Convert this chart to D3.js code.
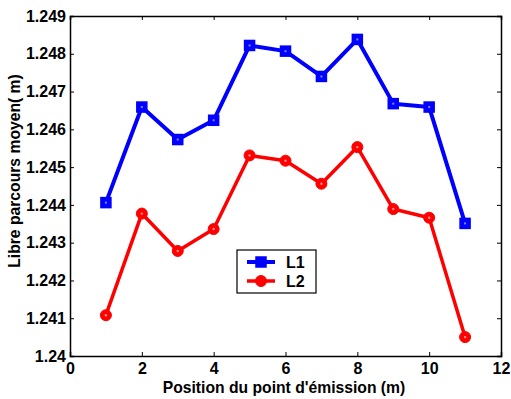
<!DOCTYPE html>
<html>
<head>
<meta charset="utf-8">
<script src="https://cdn.jsdelivr.net/npm/d3@7"></script>
<style>
  body { margin: 0; background: #fff; }
  text { font-family: "Liberation Sans", Arial, sans-serif; font-weight: bold; }
</style>
</head>
<body>
<div id="chart"></div>
<script>
const positions = [1, 2, 3, 4, 5, 6, 7, 8, 9, 10, 11]
const l1 = [1.24406, 1.24659, 1.24573, 1.24624, 1.24822, 1.24807, 1.2474, 1.24838, 1.24668, 1.24659, 1.24351]
const l2 = [1.24108, 1.24377, 1.24278, 1.24336, 1.24531, 1.24517, 1.24456, 1.24553, 1.24389, 1.24366, 1.2405]
const xTicks = [0, 2, 4, 6, 8, 10, 12]
const yTicks = [1.24, 1.241, 1.242, 1.243, 1.244, 1.245, 1.246, 1.247, 1.248, 1.249]
const yTickLabels = ["1.24", "1.241", "1.242", "1.243", "1.244", "1.245", "1.246", "1.247", "1.248", "1.249"]

const width = 511, height = 399
const margin = {top: 16, right: 10, bottom: 43, left: 70}
const w = width - margin.left - margin.right,
      h = height - margin.top - margin.bottom

const svg = d3.select("#chart").append("svg")
  .attr("width", width)
  .attr("height", height)

const g = svg.append("g")
  .attr("transform", "translate(" + margin.left + "," + margin.top + ")")

const x = d3.scaleLinear().domain([0, 12]).range([0, w])
const y = d3.scaleLinear().domain([1.24, 1.249]).range([h, 0])

// axes, ticks inward on all four sides
const fmtY = d => yTickLabels[yTicks.indexOf(d)]

g.append("g")
  .attr("transform", "translate(0," + h + ")")
  .call(d3.axisBottom(x).tickValues(xTicks).tickSize(-4).tickPadding(7).tickFormat(d3.format("d")))
g.append("g")
  .call(d3.axisTop(x).tickValues(xTicks).tickSize(-4).tickFormat(""))
g.append("g")
  .call(d3.axisLeft(y).tickValues(yTicks).tickSize(-4).tickPadding(4).tickFormat(fmtY))
g.append("g")
  .attr("transform", "translate(" + w + ",0)")
  .call(d3.axisRight(y).tickValues(yTicks).tickSize(-4).tickFormat(""))

g.selectAll(".domain").attr("stroke", "#000").attr("stroke-width", 1.5)
g.selectAll(".tick line").attr("stroke", "#000").attr("stroke-width", 1)
g.selectAll(".tick text").attr("font-size", 16).attr("fill", "#000")
  .attr("font-family", "Liberation Sans, Arial, sans-serif").attr("font-weight", "bold")

const line = d3.line()
  .x((d, i) => x(positions[i]))
  .y(d => y(d))

g.append("path").datum(l1)
  .attr("fill", "none").attr("stroke", "#0000ff").attr("stroke-width", 4)
  .attr("stroke-linejoin", "round")
  .attr("d", line)

g.append("path").datum(l2)
  .attr("fill", "none").attr("stroke", "#ff0000").attr("stroke-width", 3.5)
  .attr("stroke-linejoin", "round")
  .attr("d", line)

g.selectAll(".sq").data(l1).enter().append("rect")
  .attr("x", (d, i) => x(positions[i]) - 5)
  .attr("y", d => y(d) - 5)
  .attr("width", 10).attr("height", 10)
  .attr("fill", "#0000ff").attr("stroke", "#0000ff").attr("stroke-width", 1.5)
g.selectAll(".sqc").data(l1).enter().append("rect")
  .attr("x", (d, i) => x(positions[i]) - 1)
  .attr("y", d => y(d) - 1)
  .attr("width", 2).attr("height", 2)
  .attr("fill", "#8080ff")

g.selectAll(".ci").data(l2).enter().append("circle")
  .attr("cx", (d, i) => x(positions[i]))
  .attr("cy", d => y(d))
  .attr("r", 5.5)
  .attr("fill", "#ff0000").attr("stroke", "#ff0000").attr("stroke-width", 1)
g.selectAll(".cic").data(l2).enter().append("circle")
  .attr("cx", (d, i) => x(positions[i]))
  .attr("cy", d => y(d))
  .attr("r", 1.2)
  .attr("fill", "#ff9090")

// legend
const lg = svg.append("g").attr("transform", "translate(237,250)")
lg.append("rect").attr("width", 79).attr("height", 43)
  .attr("fill", "#fff").attr("stroke", "#000").attr("stroke-width", 1.2)
lg.append("line").attr("x1", 10).attr("x2", 38).attr("y1", 12).attr("y2", 12)
  .attr("stroke", "#0000ff").attr("stroke-width", 4)
lg.append("rect").attr("x", 19).attr("y", 7).attr("width", 10).attr("height", 10)
  .attr("fill", "#0000ff").attr("stroke", "#0000ff").attr("stroke-width", 1.5)
lg.append("line").attr("x1", 10).attr("x2", 38).attr("y1", 31).attr("y2", 31)
  .attr("stroke", "#ff0000").attr("stroke-width", 3.5)
lg.append("circle").attr("cx", 24).attr("cy", 31).attr("r", 5.5)
  .attr("fill", "#ff0000").attr("stroke", "#ff0000").attr("stroke-width", 1)
lg.append("text").attr("x", 49).attr("y", 18).attr("font-size", 16).text("L1")
lg.append("text").attr("x", 49).attr("y", 37).attr("font-size", 16).text("L2")

// axis labels
svg.append("text")
  .attr("x", 284).attr("y", 393)
  .attr("text-anchor", "middle").attr("font-size", 15.7)
  .text("Position du point d'émission (m)")

svg.append("text")
  .attr("transform", "translate(20,171) rotate(-90)")
  .attr("text-anchor", "middle").attr("font-size", 15.7)
  .text("Libre parcours moyen( m)")
</script>
</body>
</html>
